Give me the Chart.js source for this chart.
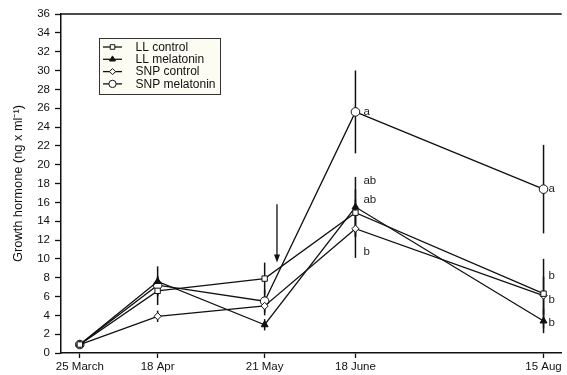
<!DOCTYPE html>
<html>
<head>
<meta charset="utf-8">
<script src="https://cdn.jsdelivr.net/npm/chart.js@4/dist/chart.umd.min.js"></script>
<style>
  html, body { margin: 0; padding: 0; background: #fff; }
  #wrap { width: 567px; height: 375px; }
</style>
</head>
<body>
<div id="wrap"><canvas id="chart"></canvas></div>
<script>
// sampling days, counted from 25 March
const days = [0, 24, 57, 85, 143];
const dateLabels = ["25 March", "18 Apr", "21 May", "18 June", "15 Aug"];

const llControl = [0.9, 6.6, 7.9, 14.9, 6.3];
const llControlErr = [0.2, 1.5, 1.7, 2.5, 3.7];
const llMelatonin = [0.9, 7.6, 3.0, 15.5, 3.4];
const llMelatoninErr = [0.2, 1.6, 0.6, 3.2, 1.3];
const snpControl = [0.9, 3.9, 5.0, 13.2, 6.1];
const snpControlErr = [0.2, 0.6, 1.0, 3.1, 2.0];
const snpMelatonin = [0.9, 7.2, 5.5, 25.6, 17.4];
const snpMelatoninErr = [0.2, 1.0, 1.2, 4.4, 4.7];

// significance letters
const letterDays = [85, 85, 85, 85, 143, 143, 143, 143];
const letterValues = [25.6, 18.3, 16.3, 10.7, 17.4, 8.2, 5.6, 3.2];
const letterText = ["a", "ab", "ab", "b", "a", "b", "b", "b"];

// arrow at about day 60
const arrowDay = 60.8;
const arrowFrom = 15.8;
const arrowTo = 9.6;

const FONT = "'Liberation Sans', Arial, sans-serif";

function makeSet(label, values, errs, style, radius, fill) {
  return {
    label: label,
    data: days.map((d, i) => ({ x: d, y: values[i] })),
    errs: errs,
    borderColor: "#111",
    borderWidth: 1.3,
    pointStyle: style,
    pointRadius: radius,
    pointBackgroundColor: fill,
    pointBorderColor: "#111",
    pointBorderWidth: 1,
    tension: 0,
  };
}

const errorBars = {
  id: "errorBars",
  beforeDatasetsDraw(chart) {
    const ctx = chart.ctx;
    const xs = chart.scales.x, ys = chart.scales.y;
    ctx.save();
    ctx.strokeStyle = "#111";
    ctx.lineWidth = 1.5;
    chart.data.datasets.forEach((ds) => {
      ds.data.forEach((p, i) => {
        const e = ds.errs[i];
        const px = xs.getPixelForValue(p.x);
        ctx.beginPath();
        ctx.moveTo(px, ys.getPixelForValue(p.y - e));
        ctx.lineTo(px, ys.getPixelForValue(p.y + e));
        ctx.stroke();
      });
    });
    ctx.restore();
  },
};

const extras = {
  id: "extras",
  afterDraw(chart) {
    const ctx = chart.ctx;
    const xs = chart.scales.x, ys = chart.scales.y;
    const area = chart.chartArea;
    ctx.save();

    // top frame line
    ctx.strokeStyle = "#111";
    ctx.lineWidth = 1.5;
    ctx.beginPath();
    ctx.moveTo(area.left, area.top);
    ctx.lineTo(area.right, area.top);
    ctx.stroke();

    // letters
    ctx.fillStyle = "#222";
    ctx.font = "11.5px " + FONT;
    ctx.textAlign = "left";
    ctx.textBaseline = "middle";
    letterText.forEach((t, i) => {
      const px = xs.getPixelForValue(letterDays[i]) + (letterDays[i] === 143 ? 5 : 8);
      ctx.fillText(t, px, ys.getPixelForValue(letterValues[i]));
    });

    // arrow
    const ax = xs.getPixelForValue(arrowDay);
    const y1 = ys.getPixelForValue(arrowFrom);
    const y2 = ys.getPixelForValue(arrowTo);
    ctx.fillStyle = "#111";
    ctx.lineWidth = 1.3;
    ctx.beginPath();
    ctx.moveTo(ax, y1);
    ctx.lineTo(ax, y2 - 6);
    ctx.stroke();
    ctx.beginPath();
    ctx.moveTo(ax - 3, y2 - 8);
    ctx.lineTo(ax + 3, y2 - 8);
    ctx.lineTo(ax, y2);
    ctx.closePath();
    ctx.fill();

    // legend box
    const bx = 99.5, by = 38.5, bw = 121, bh = 56;
    ctx.fillStyle = "#fcfcf3";
    ctx.fillRect(bx, by, bw, bh);
    ctx.strokeStyle = "#333";
    ctx.lineWidth = 1;
    ctx.strokeRect(bx, by, bw, bh);
    chart.data.datasets.forEach((ds, i) => {
      const ry = 47 + i * 12.3;
      ctx.strokeStyle = "#111";
      ctx.lineWidth = 1.3;
      ctx.beginPath();
      ctx.moveTo(103, ry);
      ctx.lineTo(122, ry);
      ctx.stroke();
      ctx.fillStyle = ds.pointBackgroundColor;
      ctx.lineWidth = 1;
      Chart.helpers.drawPoint(ctx, {
        pointStyle: ds.pointStyle,
        radius: ds.pointRadius * 0.85,
        borderWidth: 1,
      }, 112.5, ry);
      ctx.fillStyle = "#111";
      ctx.font = "12px " + FONT;
      ctx.textAlign = "left";
      ctx.textBaseline = "middle";
      ctx.fillText(ds.label, 135.5, ry + 0.5);
    });
    ctx.restore();
  },
};

new Chart(document.getElementById("chart"), {
  type: "line",
  data: {
    datasets: [
      makeSet("LL control", llControl, llControlErr, "rect", 3.8, "#fff"),
      makeSet("LL melatonin", llMelatonin, llMelatoninErr, "triangle", 4, "#111"),
      makeSet("SNP control", snpControl, snpControlErr, "rectRot", 3.6, "#fff"),
      makeSet("SNP melatonin", snpMelatonin, snpMelatoninErr, "circle", 4.3, "#fff"),
    ],
  },
  options: {
    responsive: true,
    maintainAspectRatio: false,
    animation: false,
    layout: { padding: { top: 14, right: 0, left: 0, bottom: 0 } },
    plugins: { legend: { display: false }, tooltip: { enabled: false } },
    scales: {
      x: {
        type: "linear",
        min: -5.8,
        max: 148.6,
        afterBuildTicks: (ax) => { ax.ticks = days.map((d) => ({ value: d })); },
        afterFit: (ax) => { ax.height = 22; },
        ticks: {
          autoSkip: false,
          maxRotation: 0,
          color: "#111",
          font: { family: FONT, size: 11.5 },
          padding: 2,
          callback: (v) => dateLabels[days.indexOf(v)],
        },
        grid: { drawOnChartArea: false, tickLength: 5, color: "#111", tickWidth: 1.3 },
        border: { color: "#111", width: 1.5 },
      },
      y: {
        min: 0,
        max: 36,
        afterFit: (ax) => { ax.width = 61; },
        ticks: {
          stepSize: 2,
          color: "#111",
          font: { family: FONT, size: 11.5 },
          padding: 5,
        },
        title: {
          display: true,
          text: "Growth hormone (ng x ml\u207B\u00B9)",
          color: "#111",
          font: { family: FONT, size: 12.8 },
          padding: { top: 11, bottom: 0 },
        },
        grid: { drawOnChartArea: false, tickLength: 6, color: "#111", tickWidth: 1.3 },
        border: { color: "#111", width: 1.5 },
      },
    },
  },
  plugins: [errorBars, extras],
});
</script>
</body>
</html>
